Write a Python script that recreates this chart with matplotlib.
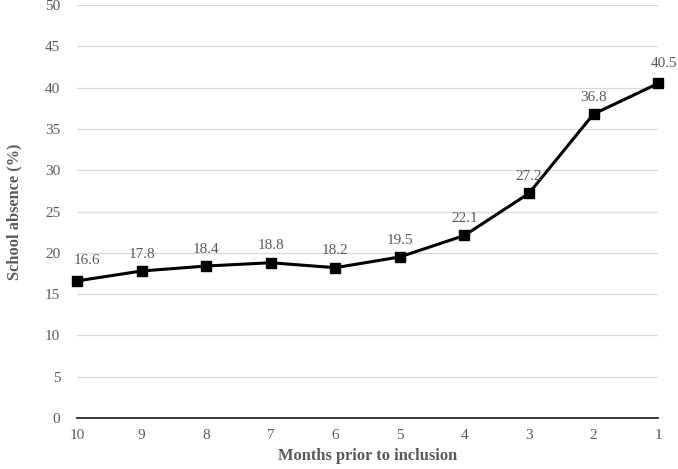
import matplotlib
matplotlib.use("Agg")
import matplotlib.pyplot as plt

months = ["10", "9", "8", "7", "6", "5", "4", "3", "2", "1"]
absence = [16.6, 17.8, 18.4, 18.8, 18.2, 19.5, 22.1, 27.2, 36.8, 40.5]
yticks = [0, 5, 10, 15, 20, 25, 30, 35, 40, 45, 50]

plt.rcParams['font.family'] = ['Liberation Serif', 'DejaVu Serif']
gray = '#595959'

fig = plt.figure(figsize=(6.78, 4.69), dpi=100)
ax = fig.add_axes([0.1136, 0.1087, 0.857, 0.8806])
x = list(range(len(months)))
ax.plot(x, absence, color='black', lw=2.2, marker='s', markersize=6.5, zorder=3, clip_on=False)
n = len(x)
for i, (xi, v) in enumerate(zip(x, absence)):
    dx, dy = 0, 7.5
    if i == 0:
        dx, dy = 7, 10
    elif i == n - 1:
        dx, dy = 4, 10
    ax.annotate(f"{v}", (xi, v), xytext=(dx, dy), textcoords='offset points',
                ha='center', va='bottom', fontsize=11, color=gray)

ax.set_xlim(0, len(months) - 1)
ax.set_ylim(0, 50)
ax.set_xticks(x)
ax.set_xticklabels(months)
ax.set_yticks(yticks)
ax.grid(axis='y', color='#d9d9d9', lw=0.9)
ax.set_axisbelow(True)
for s in ['top', 'right', 'left']:
    ax.spines[s].set_visible(False)
ax.spines['bottom'].set_color('#262626')
ax.spines['bottom'].set_linewidth(1.3)
ax.tick_params(length=0, labelsize=11, colors=gray, pad=8)
ax.tick_params(axis='y', pad=12)
ax.set_xlabel("Months prior to inclusion", fontsize=11.8, fontweight='bold', color=gray, labelpad=4)
ax.set_ylabel("School absence (%)", fontsize=11.8, fontweight='bold', color=gray, labelpad=16)

fig.savefig("out.png", dpi=100)
